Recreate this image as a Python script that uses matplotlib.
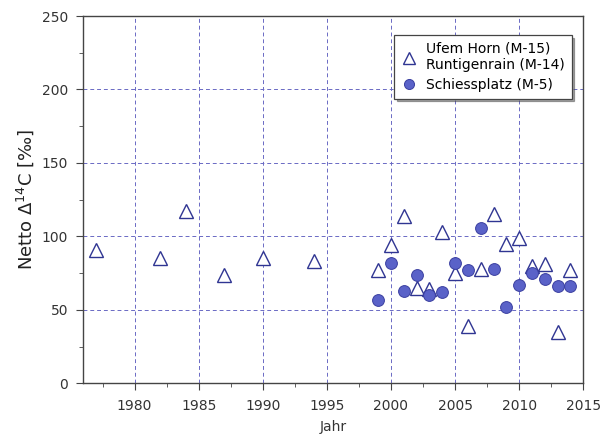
import matplotlib
matplotlib.use("Agg")
import matplotlib.pyplot as plt
from matplotlib.ticker import MultipleLocator

# Triangles: Ufem Horn (M-15) / Runtigenrain (M-14)
tri_years = [1977, 1982, 1984, 1987, 1990, 1994, 1999, 2000, 2001, 2002, 2003,
             2004, 2005, 2006, 2007, 2008, 2009, 2010, 2011, 2012, 2013, 2014]
tri_values = [91, 85, 117, 74, 85, 83, 77, 94, 114, 65, 64,
              103, 75, 39, 78, 115, 95, 99, 80, 81, 35, 77]

# Circles: Schiessplatz (M-5)
circ_years = [1999, 2000, 2001, 2002, 2003, 2004, 2005, 2006, 2007, 2008,
              2009, 2010, 2011, 2012, 2013, 2014]
circ_values = [57, 82, 63, 74, 60, 62, 82, 77, 106, 78,
               52, 67, 75, 71, 66, 66]

tri_label = "Ufem Horn (M-15)\nRuntigenrain (M-14)"
circ_label = "Schiessplatz (M-5)"

plt.rcParams['font.family'] = ['DejaVu Sans']

fig = plt.figure(figsize=(6.06, 4.37), dpi=100)
ax = fig.add_axes([83.3/606, 1-383.3/437, 500/606, (383.3-16)/437])

grid_color = '#6a6ac4'
ax.grid(True, which='major', color=grid_color, linestyle=(0, (4, 3)), linewidth=0.7)
ax.set_axisbelow(True)

ax.plot(tri_years, tri_values, linestyle='none', marker='^', markersize=9.5,
        markerfacecolor='white', markeredgecolor='#2f3592', markeredgewidth=1.0,
        label=tri_label, zorder=3)
ax.plot(circ_years, circ_values, linestyle='none', marker='o', markersize=8.5,
        markerfacecolor='#5a62c8', markeredgecolor='#3a3fa0', markeredgewidth=0.7,
        label=circ_label, zorder=4)

ax.set_xlim(1976, 2015)
ax.set_ylim(0, 250)
ax.xaxis.set_major_locator(MultipleLocator(5))
ax.xaxis.set_minor_locator(MultipleLocator(2.5))
ax.yaxis.set_major_locator(MultipleLocator(50))
ax.yaxis.set_minor_locator(MultipleLocator(25))

for sp in ax.spines.values():
    sp.set_color('#444444')
    sp.set_linewidth(1.0)

ax.tick_params(which='major', direction='out', length=5, color='#444444',
               labelsize=10, labelcolor='#333333', pad=6)
ax.tick_params(which='minor', direction='out', length=3, color='#444444')
ax.set_xticks([1980, 1985, 1990, 1995, 2000, 2005, 2010, 2015])

ax.set_xlabel('Jahr', fontsize=10, color='#333333', labelpad=5)
ax.set_ylabel('Netto Δ$^{14}$C [‰]', fontsize=13, color='#222222', labelpad=4)

leg = ax.legend(loc='upper right', bbox_to_anchor=(571.7/606, 1-35/437),
                bbox_transform=fig.transFigure, borderaxespad=0, fontsize=10,
                frameon=True, fancybox=False, shadow=True, handletextpad=0.6,
                labelspacing=0.4, borderpad=0.5, handlelength=1.2, markerscale=0.85)
leg.get_frame().set_edgecolor('#444444')
leg.get_frame().set_linewidth(0.9)

fig.savefig('out.png', dpi=100)
